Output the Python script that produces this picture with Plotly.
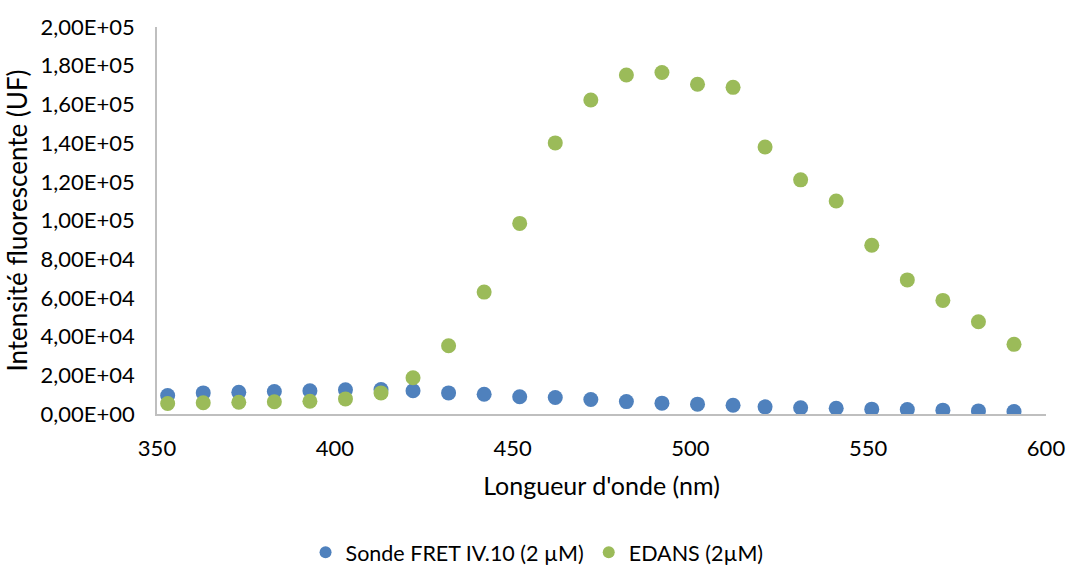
import plotly.graph_objects as go

wavelength = [353, 363, 373, 383, 393, 403, 413, 422, 432, 442, 452, 462, 472,
              482, 492, 502, 512, 521, 531, 541, 551, 561, 571, 581, 591]
sonde_fret = [9500, 10900, 11200, 11600, 12000, 12500, 12600, 12000, 10900, 10200,
              8900, 8500, 7500, 6400, 5600, 5100, 4500, 3700, 3200, 3000, 2500,
              2300, 2000, 1600, 1300]
edans = [5400, 5800, 6100, 6300, 6600, 7800, 10900, 18700, 35300, 63000, 98500,
         140100, 162300, 175200, 176500, 170400, 168800, 138000, 121000, 110100,
         87200, 69300, 58700, 47700, 36000]

y_tickvals = [0, 20000, 40000, 60000, 80000, 100000, 120000, 140000, 160000, 180000, 200000]
y_ticktext = ["0,00E+00", "2,00E+04", "4,00E+04", "6,00E+04", "8,00E+04", "1,00E+05",
              "1,20E+05", "1,40E+05", "1,60E+05", "1,80E+05", "2,00E+05"]
x_tickvals = [350, 400, 450, 500, 550, 600]

FONT = "Lato, 'Open Sans', sans-serif"

fig = go.Figure()
fig.add_trace(go.Scatter(x=wavelength, y=sonde_fret, mode="markers",
                         name="Sonde FRET IV.10 (2 µM)",
                         marker=dict(color="#4F81BD", size=15, line=dict(width=0))))
fig.add_trace(go.Scatter(x=wavelength, y=edans, mode="markers",
                         name="EDANS (2µM)",
                         marker=dict(color="#9BBB59", size=15, line=dict(width=0))))

fig.update_layout(
    width=1068, height=566,
    margin=dict(l=157, r=22, t=27, b=151.5, autoexpand=False),
    paper_bgcolor="white", plot_bgcolor="white",
    font=dict(family=FONT, size=22, color="#000000"),
    showlegend=True,
    legend=dict(orientation="h", x=0.4275, xanchor="center", y=-0.357, yanchor="middle",
                font=dict(size=21.5), itemsizing="constant", itemwidth=30),
    xaxis=dict(range=[350, 600], tickvals=x_tickvals, showgrid=False, zeroline=False,
               showline=True, linecolor="#BFBFBF", linewidth=1.5, ticks="",
               ticklabelstandoff=14, automargin=False,
               title=dict(text="Longueur d'onde (nm)", font=dict(size=25), standoff=17)),
    yaxis=dict(range=[0, 200000], tickvals=y_tickvals, ticktext=y_ticktext,
               showgrid=False, zeroline=False, showline=True, linecolor="#BFBFBF",
               linewidth=1.5, ticks="", ticklabelstandoff=16, automargin=False,
               title=dict(text="Intensité fluorescente (UF)", font=dict(size=26), standoff=5)),
)

fig.write_html("out.html", config={"displayModeBar": False},
               post_script="document.body.style.margin='0px';")
